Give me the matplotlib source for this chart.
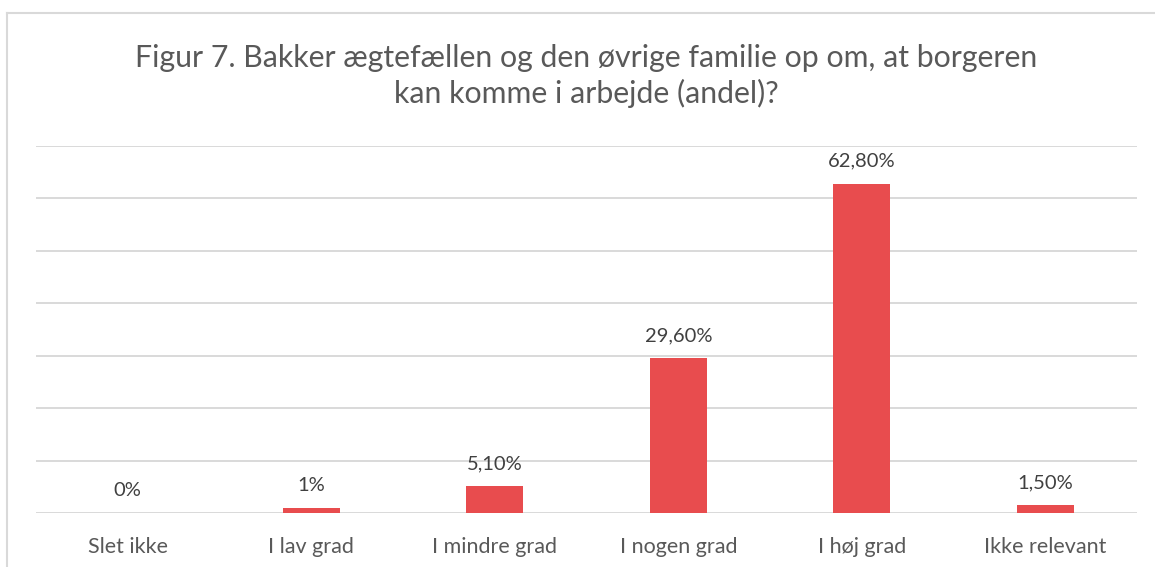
import numpy as np
import matplotlib
matplotlib.use("Agg")
import matplotlib.pyplot as plt
from matplotlib.lines import Line2D

categories = ["Slet ikke", "I lav grad", "I mindre grad", "I nogen grad", "I høj grad", "Ikke relevant"]
values = [0, 1, 5.1, 29.6, 62.8, 1.5]
value_labels = ["0%", "1%", "5,10%", "29,60%", "62,80%", "1,50%"]
title = "Figur 7. Bakker ægtefællen og den øvrige familie op om, at borgeren\nkan komme i arbejde (andel)?"

plt.rcParams['font.family'] = ['Lato', 'DejaVu Sans']

fig = plt.figure(figsize=(11.55, 5.67), dpi=100)
ax = fig.add_axes([36 / 1155, 1 - 513 / 567, 1101 / 1155, (513 - 146) / 567])

x = np.arange(len(categories))
ax.bar(x, values, width=0.31, color='#E84C4E', zorder=3)

ax.set_xlim(-0.5, len(categories) - 0.5)
ax.set_ylim(0, 70)
ax.set_yticks(np.arange(0, 71, 10))
ax.yaxis.grid(True, color='#d9d9d9', lw=1.4, zorder=0)
ax.tick_params(axis='y', left=False, labelleft=False)
ax.tick_params(axis='x', length=0, pad=17, labelsize=15.5, labelcolor='#595959')
ax.set_xticks(x)
ax.set_xticklabels(categories)
for s in ax.spines.values():
    s.set_visible(False)

for xi, v, lab in zip(x, values, value_labels):
    ax.annotate(lab, (xi, v), xytext=(0, 10), textcoords='offset points',
                ha='center', va='bottom', fontsize=14.5, color='#404040')

fig.text(586 / 1155, 1 - 76 / 567, title, ha='center', va='center',
         fontsize=21.8, color='#595959', linespacing=1.3)

# chart frame (left and top edges visible)
fig.add_artist(Line2D([7 / 1155, 7 / 1155], [0, 1 - 13 / 567], color='#d9d9d9', lw=1.5, transform=fig.transFigure))
fig.add_artist(Line2D([7 / 1155, 1], [1 - 13 / 567, 1 - 13 / 567], color='#d9d9d9', lw=1.5, transform=fig.transFigure))

fig.savefig("out.png", dpi=100)
